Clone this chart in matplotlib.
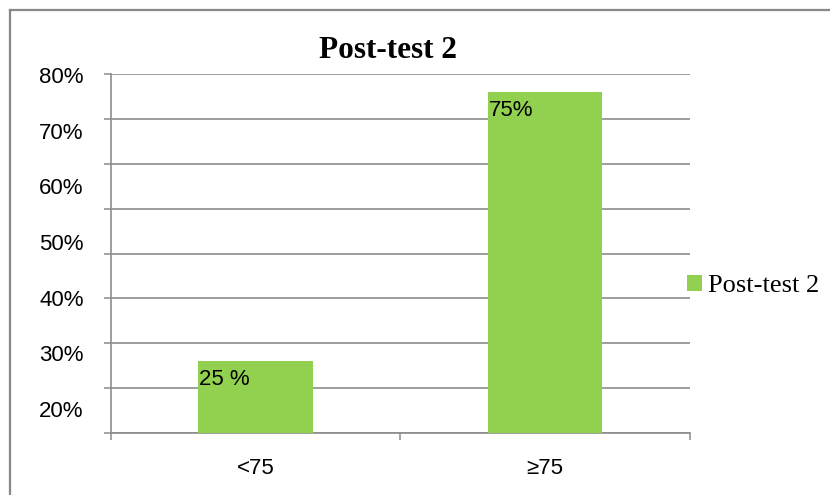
import matplotlib
matplotlib.use("Agg")
import matplotlib.pyplot as plt
from matplotlib.lines import Line2D

# Data
categories = ["<75", "\u226575"]
values = [25, 75]
value_labels = ["25 %", "75%"]
series_name = "Post-test 2"
title = "Post-test 2"

# Axis scales
grid_ticks = [0, 10, 20, 30, 40, 50, 60, 70, 80]
label_ticks = [20, 30, 40, 50, 60, 70, 80]
label_texts = ["20%", "30%", "40%", "50%", "60%", "70%", "80%"]

BAR_COLOR = "#92D050"
GRID_COLOR = "#8C8C8C"
SANS = ["Liberation Sans", "DejaVu Sans"]
SERIF = ["Liberation Serif", "DejaVu Serif"]

W, H = 830, 495
fig = plt.figure(figsize=(W / 100, H / 100), dpi=100)
fig.patch.set_facecolor("white")

x0, x1 = 110.7, 690.0
y_top, y_bot = 74.0, 433.0
pos = [x0 / W, (H - y_bot) / H, (x1 - x0) / W, (y_bot - y_top) / H]

# Gridline layer
axg = fig.add_axes(pos, zorder=0)
axg.set_xlim(-0.5, 1.5)
axg.set_ylim(0, 80)
axg.set_yticks(grid_ticks)
axg.set_yticklabels([])
axg.set_xticks([-0.5, 0.5, 1.5])
axg.set_xticklabels([])
axg.yaxis.grid(True, color=GRID_COLOR, linewidth=1.2)
axg.set_axisbelow(True)
axg.tick_params(axis="both", direction="out", length=5, width=1.1, color=GRID_COLOR)
for side in ("top", "right"):
    axg.spines[side].set_visible(False)
for side in ("left", "bottom"):
    axg.spines[side].set_color(GRID_COLOR)
    axg.spines[side].set_linewidth(1.2)

# Bar layer
ax = fig.add_axes(pos, zorder=1)
ax.patch.set_alpha(0)
ax.set_xlim(-0.5, 1.5)
ax.set_ylim(11.62, 78.35)
xs = list(range(len(categories)))
bar_w = 0.395
bars = ax.bar(xs, values, width=bar_w, color=BAR_COLOR, label=series_name,
              zorder=2)
ax.set_yticks([])
ax.set_xticks(xs)
ax.set_xticklabels(categories, fontsize=16, family=SANS)
ax.tick_params(axis="x", length=0, pad=18)
for s in ax.spines.values():
    s.set_visible(False)

for x, v, lab in zip(xs, values, value_labels):
    ax.annotate(lab, xy=(x - bar_w / 2, v), xytext=(0.5, -6),
                textcoords="offset points", ha="left", va="top",
                fontsize=16, family=SANS, color="black", zorder=3)

# Percentage label layer
axl = fig.add_axes(pos, zorder=2)
axl.patch.set_alpha(0)
axl.set_ylim(15.69, 80.18)
axl.set_xlim(0, 1)
axl.set_yticks(label_ticks)
axl.set_yticklabels(label_texts, fontsize=16, family=SANS)
axl.set_xticks([])
axl.tick_params(axis="y", length=0, pad=19.5)
for s in axl.spines.values():
    s.set_visible(False)

# Title
fig.text(388 / W, (H - 58) / H, title, ha="center", va="baseline",
         fontsize=22.5, fontweight="bold", family=SERIF)

# Legend
fig.legend(handles=[bars], labels=[series_name], loc="center left",
           bbox_to_anchor=(687 / W, (H - 286) / H), frameon=False,
           prop={"family": SERIF, "size": 19}, handlelength=0.56,
           handleheight=0.56, handletextpad=0.25, borderpad=0,
           borderaxespad=0)

# Outer frame
fig.add_artist(Line2D([10 / W, 1.0], [1 - 9.5 / H, 1 - 9.5 / H],
                      transform=fig.transFigure, color="#888888", linewidth=1.6))
fig.add_artist(Line2D([9.5 / W, 9.5 / W], [0.0, 1 - 9.5 / H],
                      transform=fig.transFigure, color="#888888", linewidth=1.6))

fig.savefig("out.png", dpi=100)
